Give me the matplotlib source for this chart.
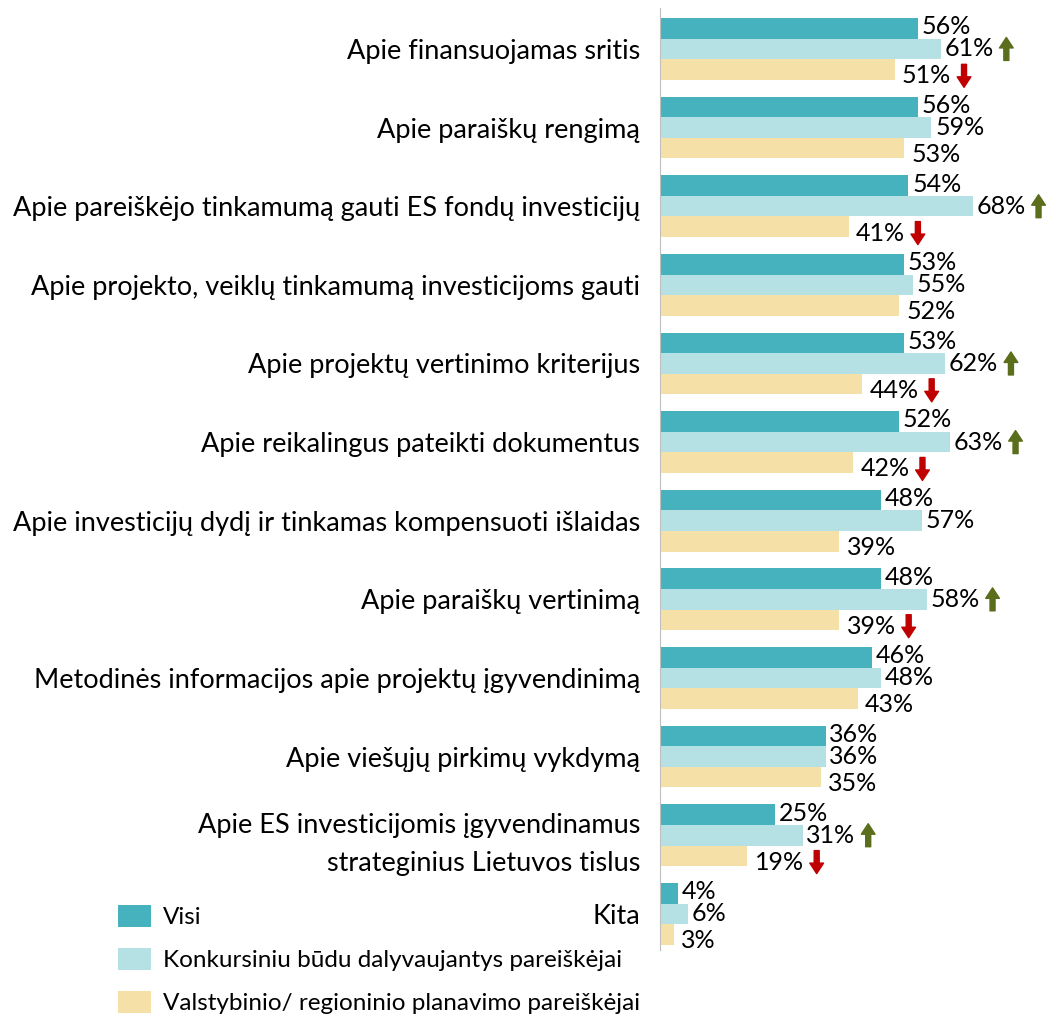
import numpy as np
import matplotlib.pyplot as plt
from matplotlib.patches import Patch

plt.rcParams['font.family'] = ['Lato', 'DejaVu Sans']

kategorijos = [
    'Apie finansuojamas sritis',
    'Apie paraiškų rengimą',
    'Apie pareiškėjo tinkamumą gauti ES fondų investicijų',
    'Apie projekto, veiklų tinkamumą investicijoms gauti',
    'Apie projektų vertinimo kriterijus',
    'Apie reikalingus pateikti dokumentus',
    'Apie investicijų dydį ir tinkamas kompensuoti išlaidas',
    'Apie paraiškų vertinimą',
    'Metodinės informacijos apie projektų įgyvendinimą',
    'Apie viešųjų pirkimų vykdymą',
    'Apie ES investicijomis įgyvendinamus\nstrateginius Lietuvos tislus',
    'Kita',
]
visi = [56, 56, 54, 53, 53, 52, 48, 48, 46, 36, 25, 4]
konkursiniai = [61, 59, 68, 55, 62, 63, 57, 58, 48, 36, 31, 6]
valstybiniai = [51, 53, 41, 52, 44, 42, 39, 39, 43, 35, 19, 3]

# rodyklės: +1 reikšmingai didesnis, -1 reikšmingai mažesnis
konk_rodykles = [1, 0, 1, 0, 1, 1, 0, 1, 0, 0, 1, 0]
valst_rodykles = [-1, 0, -1, 0, -1, -1, 0, -1, 0, 0, -1, 0]

serijos = ['Visi', 'Konkursiniu būdu dalyvaujantys pareiškėjai',
           'Valstybinio/ regioninio planavimo pareiškėjai']
spalvos = ['#46b2be', '#b6e1e4', '#f5e1a8']

fig = plt.figure(figsize=(10.51, 10.19), dpi=100)
ax = fig.add_axes([0.628, 0.0677, 0.372, 0.9244])

y = np.arange(len(kategorijos))
h = 0.262
reiksmes = [visi, konkursiniai, valstybiniai]
rodykles = [[0] * len(y), konk_rodykles, valst_rodykles]
poslinkiai = [-h, 0, h]
teksto_dy = [-0.02, 0, 0.08]

for s in range(3):
    ax.barh(y + poslinkiai[s], reiksmes[s], height=h, color=spalvos[s])
    for i, v in enumerate(reiksmes[s]):
        dx = 0.8 if s < 2 else 1.6
        t = ax.text(v + dx, y[i] + poslinkiai[s] + teksto_dy[s], f'{v}%',
                    va='center', ha='left', fontsize=18)
        r = rodykles[s][i]
        if r != 0:
            spalva = '#5a6e1c' if r > 0 else '#c00000'
            apacia, virsus = (0.0, 1.0) if r > 0 else (1.0, 0.0)
            ax.annotate('', xy=(1.26, virsus), xycoords=t,
                        xytext=(1.26, apacia), textcoords=t,
                        arrowprops=dict(arrowstyle='simple,head_width=0.55,head_length=0.42,tail_width=0.2',
                                        color=spalva, shrinkA=0, shrinkB=0,
                                        mutation_scale=18))

ax.set_xlim(0, 85)
ax.set_ylim(11.46, -0.52)
ax.set_yticks(y)
ax.set_yticklabels(kategorijos, fontsize=19.5, linespacing=1.65)
ax.tick_params(axis='y', length=0, pad=14.5)
ax.set_xticks([])
for k in ['top', 'right', 'bottom']:
    ax.spines[k].set_visible(False)
ax.spines['left'].set_color('#bfbfbf')

rankeles = [Patch(facecolor=c) for c in spalvos]
fig.legend(rankeles, serijos, loc='lower left', bbox_to_anchor=(0.096, -0.012),
           frameon=False, fontsize=17.5, handlelength=1.35, handleheight=1.05,
           labelspacing=0.8, handletextpad=0.5, borderpad=0.2)

fig.savefig('out.png', dpi=100)
